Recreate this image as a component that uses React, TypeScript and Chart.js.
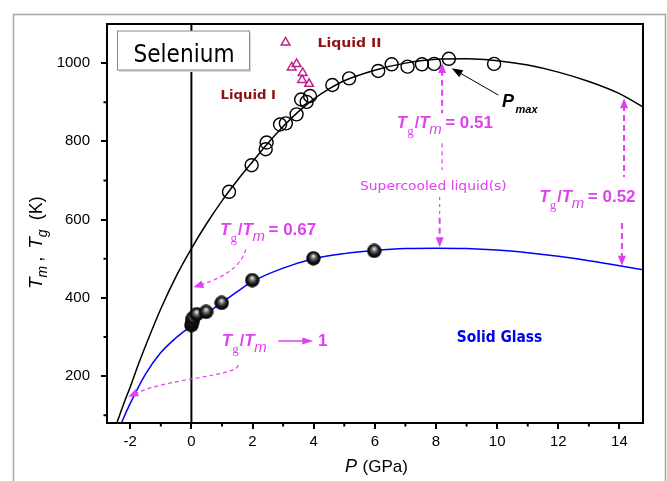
import React, { useEffect, useRef } from "react";
import { Chart, registerables } from "chart.js";

Chart.register(...registerables);

// ---- data (P in GPa, T in K) ----
const tmFitP = [-2.6, -2.44, -2.2, -2, -1.7, -1.5, -1, -0.5, 0, 0.5, 1, 1.5, 2, 2.5, 3, 3.5, 4, 4.5, 5, 6, 7, 8, 9, 10, 11, 12, 13, 14, 14.77];
const tmFitT = [45, 80, 132, 172, 237, 277, 372, 455, 526, 590, 648, 700, 748, 795, 838, 876, 908, 934, 955, 982, 1000, 1010, 1011, 1006, 995, 977, 953, 922, 888];

const tgFitP = [-2.45, -2.29, -2, -1.5, -1, -0.5, 0, 0.5, 1, 1.5, 2, 3, 4, 5, 6, 7, 8, 9, 10, 11, 12, 13, 14, 14.77];
const tgFitT = [52, 80, 130, 205, 260, 298, 329, 360, 388, 416, 442, 476, 500, 513, 521, 526, 527, 526, 522, 515, 506, 495, 482, 472];

const tmDataP = [1.23, 1.97, 2.43, 2.46, 2.9, 3.09, 3.44, 3.59, 3.77, 3.88, 4.61, 5.16, 6.11, 6.55, 7.07, 7.54, 7.94, 8.42, 9.9];
const tmDataT = [671, 739, 780, 797, 843, 846, 869, 907, 901, 916, 944, 961, 980, 997, 991, 997, 998, 1011, 998];

const tgDataP = [0, 0.02, 0.05, 0.17, 0.48, 0.99, 1.99, 3.99, 5.98];
const tgDataT = [330, 338, 348, 358, 364, 387, 445, 501, 520];

const liq2P = [3.08, 3.28, 3.44, 3.64, 3.62, 3.85];
const liq2T = [1053, 989, 998, 975, 957, 947];

const xTickValues = [-2, 0, 2, 4, 6, 8, 10, 12, 14];
const xTickLabels = ["-2", "0", "2", "4", "6", "8", "10", "12", "14"];
const yTickValues = [200, 400, 600, 800, 1000];
const yTickLabels = ["200", "400", "600", "800", "1000"];

const MAG = "#e040f0";
const DARKRED = "#8e1212";
const COMIC = '"DejaVu Sans", sans-serif';
const ARIAL = '"Liberation Sans", Arial, sans-serif';

function pts(xs: number[], ys: number[]) {
  return xs.map((x, i) => ({ x, y: ys[i] }));
}

function makeSphere(): HTMLCanvasElement {
  const c = document.createElement("canvas");
  c.width = 15;
  c.height = 15;
  const g = c.getContext("2d")!;
  const grad = g.createRadialGradient(7.5, 5, 0.3, 7.5, 7.5, 7.5);
  grad.addColorStop(0, "#f0f0f0");
  grad.addColorStop(0.3, "#707070");
  grad.addColorStop(0.65, "#141414");
  grad.addColorStop(1, "#000");
  g.fillStyle = grad;
  g.beginPath();
  g.arc(7.5, 7.5, 7.2, 0, Math.PI * 2);
  g.fill();
  return c;
}

function fitText(ctx: CanvasRenderingContext2D, text: string, x: number, base: number, width: number, font: string, color: string) {
  ctx.save();
  ctx.font = font;
  ctx.fillStyle = color;
  ctx.textAlign = "left";
  ctx.textBaseline = "alphabetic";
  const w = ctx.measureText(text).width;
  const s = width / w;
  ctx.translate(x, base);
  ctx.scale(s, 1);
  ctx.fillText(text, 0, 0);
  ctx.restore();
}

function arrowHead(ctx: CanvasRenderingContext2D, x: number, y: number, ang: number, len: number, hw: number, color: string) {
  ctx.save();
  ctx.fillStyle = color;
  ctx.translate(x, y);
  ctx.rotate(ang);
  ctx.beginPath();
  ctx.moveTo(0, 0);
  ctx.lineTo(-len, -hw);
  ctx.lineTo(-len, hw);
  ctx.closePath();
  ctx.fill();
  ctx.restore();
}

function ratioLabel(ctx: CanvasRenderingContext2D, x: number, base: number, tail: string) {
  ctx.save();
  ctx.fillStyle = MAG;
  ctx.textBaseline = "alphabetic";
  ctx.textAlign = "left";
  ctx.font = `italic bold 17px ${ARIAL}`;
  ctx.fillText("T", x, base);
  ctx.font = `13px "Liberation Serif", serif`;
  ctx.fillText("g", x + 10.5, base + 7);
  ctx.font = `bold 16px ${ARIAL}`;
  ctx.fillText("/", x + 18, base);
  ctx.font = `italic bold 17px ${ARIAL}`;
  ctx.fillText("T", x + 22.5, base);
  ctx.font = `italic 15px ${ARIAL}`;
  ctx.fillText("m", x + 32.5, base + 6);
  if (tail) {
    ctx.font = `bold 17px ${ARIAL}`;
    ctx.fillText(tail, x + 48.5, base);
  }
  ctx.restore();
}

const annotations = {
  id: "annotations",
  afterDatasetsDraw(chart: any) {
    const ctx: CanvasRenderingContext2D = chart.ctx;
    const xs = chart.scales.x;
    const ys = chart.scales.y;
    const X = (v: number) => xs.getPixelForValue(v);
    const Y = (v: number) => ys.getPixelForValue(v);
    const ca = chart.chartArea;

    ctx.save();
    // frame
    ctx.strokeStyle = "#000";
    ctx.lineWidth = 2;
    ctx.strokeRect(ca.left, ca.top, ca.right - ca.left, ca.bottom - ca.top);

    // minor ticks
    ctx.lineWidth = 2;
    ctx.beginPath();
    for (let v = -1; v <= 13; v += 2) {
      const px = X(v);
      ctx.moveTo(px, ca.bottom);
      ctx.lineTo(px, ca.bottom + 3.5);
    }
    for (let v = 100; v <= 900; v += 200) {
      const py = Y(v);
      ctx.moveTo(ca.left, py);
      ctx.lineTo(ca.left - 3.5, py);
    }
    ctx.stroke();

    // Selenium box
    ctx.fillStyle = "#d8d8d8";
    ctx.fillRect(119, 33, 132, 39);
    ctx.fillStyle = "#fff";
    ctx.fillRect(117.5, 31, 132, 39);
    ctx.strokeStyle = "#8a8a8a";
    ctx.lineWidth = 1;
    ctx.strokeRect(117.5, 31, 132, 39);
    fitText(ctx, "Selenium", 133.5, 61.5, 101, `24px ${COMIC}`, "#000");

    // Liquid labels
    fitText(ctx, "Liquid II", 317.5, 47.3, 64, `bold 13px ${COMIC}`, DARKRED);
    fitText(ctx, "Liquid I", 220.5, 98.5, 55.5, `bold 13px ${COMIC}`, DARKRED);
    fitText(ctx, "Solid Glass", 456.7, 341.5, 85.6, `bold 15px ${COMIC}`, "#0000ee");
    fitText(ctx, "Supercooled liquid(s)", 360, 189.5, 146.7, `13px ${COMIC}`, MAG);

    // P_max
    ctx.fillStyle = "#000";
    ctx.font = `italic bold 18px ${ARIAL}`;
    ctx.fillText("P", 502, 106.8);
    ctx.font = `italic bold 11px ${ARIAL}`;
    ctx.fillText("max", 515.5, 113);
    ctx.strokeStyle = "#000";
    ctx.lineWidth = 1;
    ctx.beginPath();
    ctx.moveTo(498.3, 95);
    ctx.lineTo(458, 71.9);
    ctx.stroke();
    arrowHead(ctx, 451.7, 68.3, Math.atan2(68.3 - 95, 451.7 - 498.3), 11, 4, "#000");

    // ratio labels
    ratioLabel(ctx, 396.7, 128.3, "= 0.51");
    ratioLabel(ctx, 539.3, 201.7, "= 0.52");
    ratioLabel(ctx, 220, 235, "= 0.67");
    ratioLabel(ctx, 221.7, 345.7, "");
    ctx.fillStyle = MAG;
    ctx.font = `bold 17px ${ARIAL}`;
    ctx.fillText("1", 318, 345.7);
    ctx.strokeStyle = MAG;
    ctx.lineWidth = 1.5;
    ctx.beginPath();
    ctx.moveTo(278.3, 341);
    ctx.lineTo(304, 341);
    ctx.stroke();
    arrowHead(ctx, 313.3, 341, 0, 11, 3.5, MAG);

    // vertical dashed arrows
    const dashV = (x: number, y1: number, y2: number, w: number, dash: number[]) => {
      ctx.save();
      ctx.strokeStyle = MAG;
      ctx.lineWidth = w;
      ctx.setLineDash(dash);
      ctx.beginPath();
      ctx.moveTo(x, y1);
      ctx.lineTo(x, y2);
      ctx.stroke();
      ctx.restore();
    };
    // column at P ~ 8.2
    const cA = X(8.2);
    const cAl = X(8.12);
    dashV(cA, Y(983), Y(872), 2, [6, 4]);
    arrowHead(ctx, cA, Y(1000), -Math.PI / 2, 10, 4, MAG);
    dashV(cA, Y(795), Y(727), 1.2, [4, 4]);
    dashV(cAl, Y(658), Y(611), 1.2, [3, 4]);
    dashV(cAl, Y(605), Y(555), 2, [6, 4]);
    arrowHead(ctx, cAl, Y(529), Math.PI / 2, 10, 4, MAG);
    // column at P ~ 14.1
    const cB = X(14.15);
    const cBl = X(14.08);
    dashV(cB, Y(893), Y(709), 2, [6, 4]);
    arrowHead(ctx, cB, Y(910), -Math.PI / 2, 10, 4, MAG);
    dashV(cBl, Y(591), Y(505), 2, [6, 4]);
    arrowHead(ctx, cBl, Y(482), Math.PI / 2, 10, 4, MAG);

    // curved dashed arrows
    ctx.save();
    ctx.strokeStyle = MAG;
    ctx.lineWidth = 1.2;
    ctx.setLineDash([4, 3]);
    ctx.beginPath();
    ctx.moveTo(245.7, 249.3);
    ctx.quadraticCurveTo(240, 272, 202, 284.5);
    ctx.stroke();
    ctx.beginPath();
    ctx.moveTo(238.3, 365);
    ctx.bezierCurveTo(238, 376, 170, 378, 137, 392.8);
    ctx.stroke();
    ctx.restore();
    arrowHead(ctx, 193.3, 287.3, Math.atan2(15.3, -46.7), 10, 4, MAG);
    arrowHead(ctx, 128.3, 396.7, Math.atan2(18.7, -41.7), 10, 4, MAG);

    // axis titles
    ctx.fillStyle = "#000";
    ctx.textBaseline = "alphabetic";
    ctx.font = `italic 18px ${ARIAL}`;
    ctx.fillText("P", 345, 472);
    ctx.font = `17px ${ARIAL}`;
    ctx.fillText("(GPa)", 362.5, 472);

    ctx.save();
    ctx.translate(42, 236);
    ctx.rotate(-Math.PI / 2);
    let cx = -53;
    ctx.font = `italic 19px ${ARIAL}`;
    ctx.fillText("T", cx, 0);
    cx += ctx.measureText("T").width;
    ctx.font = `italic 14px ${ARIAL}`;
    ctx.fillText("m", cx, 5);
    cx += ctx.measureText("m").width + 4;
    ctx.font = `18px ${ARIAL}`;
    ctx.fillText(",", cx, 0);
    cx += ctx.measureText(",").width + 8;
    ctx.font = `italic 19px ${ARIAL}`;
    ctx.fillText("T", cx, 0);
    cx += ctx.measureText("T").width;
    ctx.font = `italic 14px ${ARIAL}`;
    ctx.fillText("g", cx, 5);
    cx += ctx.measureText("g").width + 9;
    ctx.font = `18px ${ARIAL}`;
    ctx.fillText("(K)", cx, 0);
    ctx.restore();

    // outer grey frame
    ctx.strokeStyle = "#a6a6a6";
    ctx.lineWidth = 1.5;
    ctx.beginPath();
    ctx.moveTo(13.5, 481);
    ctx.lineTo(13.5, 14.5);
    ctx.lineTo(665.5, 14.5);
    ctx.lineTo(665.5, 481);
    ctx.stroke();
    ctx.restore();
  },
};

export default function App() {
  const ref = useRef<HTMLCanvasElement | null>(null);
  useEffect(() => {
    if (!ref.current) return;
    const sphere = makeSphere();
    const chart = new Chart(ref.current, {
      type: "scatter",
      data: {
        datasets: [
          {
            label: "Tg data",
            data: pts(tgDataP, tgDataT),
            pointStyle: sphere as any,
            pointRadius: 7,
            showLine: false,
          },
          {
            label: "Tm data",
            data: pts(tmDataP, tmDataT),
            pointStyle: "circle",
            pointRadius: 6.5,
            borderColor: "#000",
            borderWidth: 1.4,
            backgroundColor: "rgba(0,0,0,0)",
            showLine: false,
          },
          {
            label: "Liquid II",
            data: pts(liq2P, liq2T),
            pointStyle: "triangle",
            pointRadius: 5,
            borderColor: "#c0208a",
            borderWidth: 1.5,
            backgroundColor: "rgba(0,0,0,0)",
            showLine: false,
          },
          {
            label: "Tm fit",
            data: pts(tmFitP, tmFitT),
            showLine: true,
            pointRadius: 0,
            borderColor: "#000",
            borderWidth: 1.5,
            cubicInterpolationMode: "monotone",
          },
          {
            label: "Tg fit",
            data: pts(tgFitP, tgFitT),
            showLine: true,
            pointRadius: 0,
            borderColor: "#0000ff",
            borderWidth: 1.5,
            cubicInterpolationMode: "monotone",
          },
          {
            label: "P = 0",
            data: [
              { x: 0, y: 80 },
              { x: 0, y: 1100 },
            ],
            showLine: true,
            pointRadius: 0,
            borderColor: "#000",
            borderWidth: 2,
          },
        ],
      },
      options: {
        responsive: false,
        animation: false,
        events: [],
        layout: { padding: { top: 24, right: 24, left: 0, bottom: 0 } },
        plugins: { legend: { display: false }, tooltip: { enabled: false } },
        scales: {
          x: {
            type: "linear",
            bounds: "data",
            min: -2.76,
            max: 14.77,
            afterFit: (s: any) => {
              s.height = 58;
            },
            afterBuildTicks: (s: any) => {
              s.ticks = xTickValues.map((v) => ({ value: v }));
            },
            ticks: {
              autoSkip: false,
              maxRotation: 0,
              padding: 4,
              color: "#000",
              font: { family: ARIAL, size: 15 },
              callback: (v: any) => {
                const i = xTickValues.indexOf(Math.round(Number(v)));
                return i >= 0 ? xTickLabels[i] : "";
              },
            },
            grid: { drawOnChartArea: false, drawTicks: true, tickLength: 6, color: "#000", lineWidth: 2 },
            border: { display: true, color: "#000", width: 2 },
          },
          y: {
            type: "linear",
            bounds: "data",
            min: 80,
            max: 1100,
            afterFit: (s: any) => {
              s.width = 107;
            },
            afterBuildTicks: (s: any) => {
              s.ticks = yTickValues.map((v) => ({ value: v }));
            },
            ticks: {
              autoSkip: false,
              padding: 11,
              color: "#000",
              font: { family: ARIAL, size: 15 },
              callback: (v: any) => {
                const i = yTickValues.indexOf(Math.round(Number(v)));
                return i >= 0 ? yTickLabels[i] : "";
              },
            },
            grid: { drawOnChartArea: false, drawTicks: true, tickLength: 6, color: "#000", lineWidth: 2 },
            border: { display: true, color: "#000", width: 2 },
          },
        },
      },
      plugins: [annotations],
    });
    return () => chart.destroy();
  }, []);

  return (
    <div style={{ position: "fixed", left: 0, top: 0, width: 667, height: 481, background: "#fff" }}>
      <canvas ref={ref} width={667} height={481} style={{ display: "block" }} />
    </div>
  );
}
